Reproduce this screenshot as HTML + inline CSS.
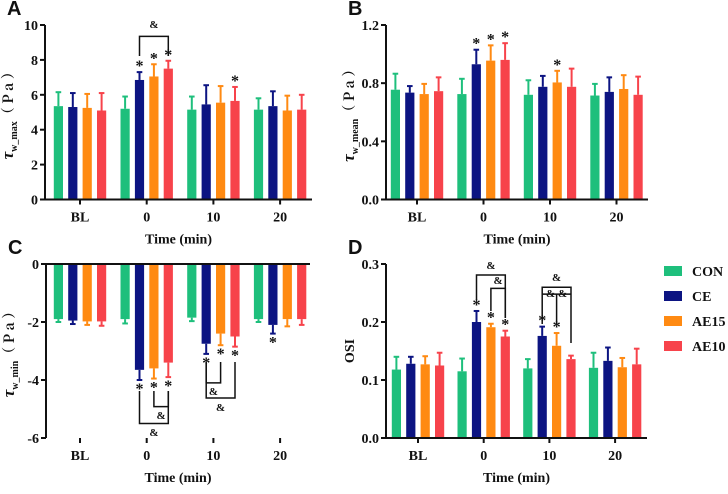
<!DOCTYPE html>
<html><head><meta charset="utf-8">
<style>
body{margin:0;background:#fff;}
svg text{font-family:"Liberation Serif","Noto Serif CJK SC",serif;font-weight:bold;fill:#111;}
.let{font-family:"Liberation Sans",sans-serif;font-size:20px;}
</style></head>
<body>
<svg id="chart" width="728" height="489" viewBox="0 0 728 489" xmlns="http://www.w3.org/2000/svg"></svg>
<script>
const groups=["BL","0","10","20"];
const series=["CON","CE","AE15","AE10"];
const colors=["#1ebf7c","#0c1482","#ff8a12","#f7434b"];
const aMean=[[5.35,5.3,5.25,5.1],[5.2,6.85,7.05,7.5],[5.15,5.45,5.55,5.65],[5.15,5.35,5.1,5.15]];
const aErr=[[0.8,0.8,0.8,1.0],[0.7,0.45,0.7,0.45],[0.75,1.1,0.95,0.8],[0.65,0.85,0.85,0.85]];
const bMean=[[0.755,0.735,0.725,0.745],[0.725,0.93,0.955,0.96],[0.72,0.775,0.805,0.775],[0.715,0.74,0.76,0.72]];
const bErr=[[0.11,0.045,0.07,0.095],[0.105,0.1,0.105,0.115],[0.1,0.075,0.08,0.125],[0.08,0.1,0.095,0.125]];
const cMean=[[-1.9,-1.95,-1.98,-1.98],[-1.9,-3.65,-3.6,-3.4],[-1.85,-2.75,-2.4,-2.5],[-1.9,-2.1,-1.9,-1.9]];
const cErr=[[0.1,0.12,0.12,0.15],[0.15,0.35,0.35,0.5],[0.12,0.35,0.4,0.35],[0.1,0.3,0.25,0.2]];
const dMean=[[0.118,0.128,0.127,0.125],[0.115,0.2,0.191,0.175],[0.12,0.176,0.159,0.136],[0.121,0.133,0.122,0.127]];
const dErr=[[0.022,0.012,0.014,0.022],[0.022,0.019,0.006,0.01],[0.016,0.016,0.022,0.006],[0.026,0.023,0.016,0.027]];
const aTicks=[0,2,4,6,8,10], bTicks=[0,0.4,0.8,1.2], cTicks=[0,-2,-4,-6], dTicks=[0,0.1,0.2,0.3];
const aStars=[[1,1],[1,2],[1,3],[2,3]];
const bStars=[[1,1],[1,2],[1,3],[2,2]];
const cStars=[[1,1],[1,2],[1,3],[2,1],[2,2],[2,3],[3,1]];
const dStars=[[1,1],[1,2],[1,3],[2,1],[2,2]];

const svg=document.getElementById('chart');
const NS="http://www.w3.org/2000/svg";
function el(tag,attrs,parent){const e=document.createElementNS(NS,tag);for(const k in attrs)e.setAttribute(k,attrs[k]);(parent||svg).appendChild(e);return e;}
function txt(x,y,s,size,parent,anchor){const t=el('text',{x:x,y:y,'font-size':size,'text-anchor':anchor||'middle'},parent);t.textContent=s;return t;}

function panel(cfg){
  const g=el('g',{});
  
  
  const ys=v=>cfg.y0+(v-cfg.vmin)/(cfg.vmax-cfg.vmin)*(cfg.y1-cfg.y0);
  const xs=(gi,si)=>cfg.tx0+gi*cfg.gs+(si-1.5)*14.4;
  const base=ys(0);
  for(let gi=0;gi<groups.length;gi++)for(let si=0;si<4;si++){
    const m=cfg.mean[gi][si],e=cfg.err[gi][si],x=xs(gi,si);
    const top=Math.min(ys(m),base),h=Math.abs(ys(m)-base);
    const r=el('rect',{x:x-4.6,y:top,width:9.2,height:h,fill:colors[si]},g);
    
    
    const ye=ys(m+(m<0?-e:e));
    el('line',{x1:x,x2:x,y1:ys(m),y2:ye,stroke:colors[si],'stroke-width':2},g);
    el('line',{x1:x-2.8,x2:x+2.8,y1:ye,y2:ye,stroke:colors[si],'stroke-width':2},g);
  }
  const yl=el('line',{x1:cfg.ax,x2:cfg.ax,y1:ys(cfg.vmax),y2:ys(cfg.vmin),stroke:'#111','stroke-width':2},g);
  
  const xl=el('line',{x1:cfg.ax,x2:cfg.axEnd,y1:base,y2:base,stroke:'#111','stroke-width':2},g);
  
  cfg.ticks.forEach(t=>{
    el('line',{x1:cfg.ax-5,x2:cfg.ax,y1:ys(t),y2:ys(t),stroke:'#111','stroke-width':2},g);
    const lb=txt(cfg.ax-7,ys(t)+5,cfg.fmt(t),14,g,'end');
    
  });
  const xb=ys(cfg.vmin)>base?ys(cfg.vmin):base;
  groups.forEach((gn,gi)=>{
    const x=cfg.tx0+gi*cfg.gs;
    el('line',{x1:x,x2:x,y1:xb,y2:xb+5,stroke:'#111','stroke-width':2},g);
    const lb=txt(x,xb+22,gn,14,g);
    
  });
  const xt=txt((cfg.ax+cfg.axEnd)/2,xb+44,'Time (min)',14,g);
  
  const yt=el('text',{x:0,y:0,'font-size':14,'text-anchor':'middle',transform:`translate(${cfg.ax-32},${(ys(cfg.vmax)+xb)/2}) rotate(-90)`},g);
  
  if(cfg.sub){
    yt.innerHTML='<tspan font-style="italic" font-size="17">τ</tspan><tspan font-size="10" dy="4">w_'+cfg.sub+'</tspan><tspan dy="-4" font-family="Noto Serif CJK SC, serif">（ P a ）</tspan>';
  } else yt.textContent='OSI';
  const L=txt(cfg.ax-38,ys(cfg.vmax)-10,cfg.letter,20,g,'start');
  L.setAttribute('class','let');
  cfg.stars.forEach(([gi,si])=>{
    const m=cfg.mean[gi][si],e=cfg.err[gi][si];
    const y=m<0?ys(m-e)+14:ys(m+e)-1;
    const s=txt(xs(gi,si),y,'*',16,g);s.setAttribute('fill','#444');
    
  });
  return {g,xs,ys};
}
function bracket(p,gi,sa,sb,yv,ya,yb,lbl,ly){
  const x1=p.xs(gi,sa),x2=p.xs(gi,sb),y=p.ys(yv);
  el('path',{d:`M${x1},${ya} L${x1},${y} L${x2},${y} L${x2},${yb}`,fill:'none',stroke:'#111','stroke-width':1.5},p.g);
  const t=txt((x1+x2)/2,ly,lbl,11,p.g);t.setAttribute('font-weight','normal');
  
}
const A=panel({name:'panel-a-tau-max',letter:'A',sub:'max',mean:aMean,err:aErr,ticks:aTicks,vmin:0,vmax:10,y0:199.5,y1:25,ax:45,axEnd:312,tx0:80,gs:66.7,fmt:v=>String(v),stars:aStars});
bracket(A,1,1,3,9.35,56,56,'&',28);
const B=panel({name:'panel-b-tau-mean',letter:'B',sub:'mean',mean:bMean,err:bErr,ticks:bTicks,vmin:0,vmax:1.2,y0:199.5,y1:25,ax:386,axEnd:648,tx0:417,gs:66.5,fmt:v=>v.toFixed(1),stars:bStars});
const C=panel({name:'panel-c-tau-min',letter:'C',sub:'min',mean:cMean,err:cErr,ticks:cTicks,vmin:-6,vmax:0,y0:438,y1:264,ax:46,axEnd:310,tx0:80,gs:66.7,fmt:v=>String(v),stars:cStars});
bracket(C,1,1,3,-5.5,391,391,'&',436);
bracket(C,1,2,3,-4.92,391,391,'&',419);
bracket(C,2,1,2,-4.1,362,362,'&',395);
bracket(C,2,1,3,-4.62,362,362,'&',411);
const D=panel({name:'panel-d-osi',letter:'D',sub:null,mean:dMean,err:dErr,ticks:dTicks,vmin:0,vmax:0.3,y0:438,y1:264,ax:386,axEnd:647,tx0:418,gs:65.7,fmt:v=>v.toFixed(1),stars:dStars});
bracket(D,1,1,3,0.281,300,318,'&',269);
bracket(D,1,2,3,0.258,311,318,'&',284);
bracket(D,2,1,3,0.26,324,343,'&',281);
el('line',{x1:D.xs(2,1),x2:D.xs(2,3),y1:D.ys(0.248),y2:D.ys(0.248),stroke:'#111','stroke-width':1.5},D.g);
el('line',{x1:D.xs(2,2),x2:D.xs(2,2),y1:D.ys(0.248),y2:325,stroke:'#111','stroke-width':1.5},D.g);
{const t=txt((D.xs(2,1)+D.xs(2,3))/2,297,'&  &',11,D.g);t.setAttribute('font-weight','normal');
}
const lg=el('g',{});


series.forEach((s,i)=>{
  const y=271+i*25;
  const r=el('rect',{x:664,y:y-5,width:18,height:10,fill:colors[i]},lg);
  
  const t=txt(692,y+5,s,14,lg,'start');
  
});
</script>
</body></html>
